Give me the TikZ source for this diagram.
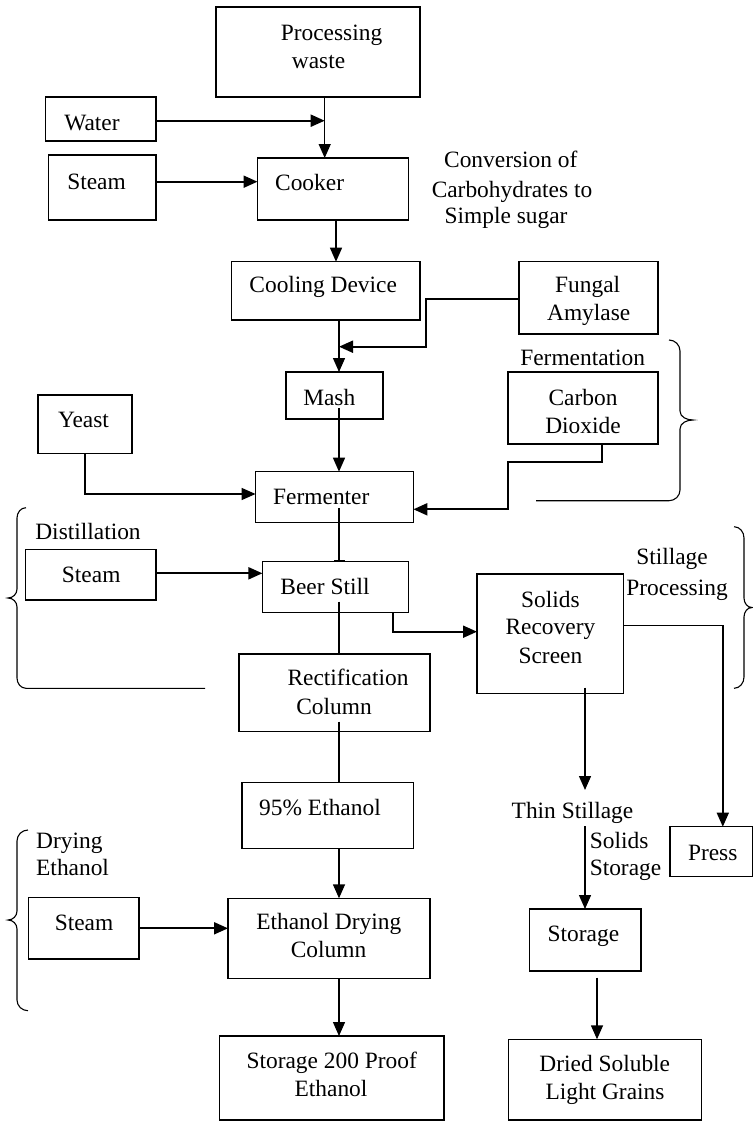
\documentclass[tikz,border=0pt]{standalone}
\usepackage{fontspec}
\setmainfont{Liberation Serif}
\usetikzlibrary{arrows.meta}
\begin{document}
\begin{tikzpicture}[x=1pt,y=-1pt,
  box/.style={draw,line width=1.2pt,inner sep=0pt,outer sep=0pt},
  txt/.style={inner sep=0pt,font=\fontsize{23.4}{28}\selectfont},
  con/.style={line width=1.4pt},
  arr/.style={con,-{Triangle[length=14pt,width=12pt]}},
  thk/.style={line width=2pt},
  brace/.style={line width=1.1pt}]
\useasboundingbox (0,0) rectangle (752,1121);
\newcommand\bx[5]{\pgfmathsetmacro\bw{#4-#2}\pgfmathsetmacro\bh{#5-#3}%
  \node[box,minimum width=\bw pt,minimum height=\bh pt] (#1) at ({(#2+#4)/2},{(#3+#5)/2}) {};}
\newcommand\tx[4]{\node[txt,anchor=base] (#1) at (#2,{#3+7.5}) {#4};}
% boxes
\bx{proc}{216}{7}{420}{97}
\bx{water}{45.5}{97}{156}{141}
\bx{steamA}{48.5}{155}{156}{220}
\bx{cook}{257.5}{158}{408.6}{220}
\bx{cool}{231.6}{261.7}{420}{320}
\bx{fung}{519}{261.7}{658}{334}
\bx{mash}{286}{372}{383}{419}
\bx{co2}{508}{372}{658}{444}
\bx{yeast}{38}{395}{132}{453.7}
\bx{ferm}{255.6}{471.7}{413.4}{522.7}
\bx{steamB}{25.4}{549.3}{156}{600}
\bx{beer}{262.4}{561.7}{408.6}{612.3}
\bx{solids}{477}{574}{623.5}{693.3}
\bx{rect}{239}{654}{430}{731.7}
\bx{eth}{242}{782.7}{413.4}{848.3}
\bx{press}{670}{826.7}{753}{876.7}
\bx{steamC}{28.3}{897.7}{139}{959}
\bx{dry}{228}{898.3}{430}{978.3}
\bx{stor}{529.5}{909}{641}{971}
\bx{sproof}{219.7}{1036}{444}{1120}
\bx{dried}{508.4}{1039.3}{701.7}{1120}
% texts
\tx{t1}{331.5}{33.3}{Processing}
\tx{t2}{318.5}{61}{waste}
\tx{t3}{92}{122.7}{Water}
\tx{t4}{96.5}{181.7}{Steam}
\tx{t5}{309.6}{183.3}{Cooker}
\tx{t6}{510.8}{160}{Conversion of}
\tx{t7}{512}{190}{Carbohydrates to}
\tx{t8}{506}{216}{Simple sugar}
\tx{t9}{323.2}{285}{Cooling Device}
\tx{t10}{587.7}{285}{Fungal}
\tx{t11}{588.7}{313}{Amylase}
\tx{t12}{329.3}{397.7}{Mash}
\tx{t13}{582.7}{358}{Fermentation}
\tx{t14}{583}{397.7}{Carbon}
\tx{t15}{583}{425.7}{Dioxide}
\tx{t16}{83.5}{420}{Yeast}
\tx{t17}{321.3}{496.7}{Fermenter}
\tx{t18}{88}{531.7}{Distillation}
\tx{t19}{672}{557}{Stillage}
\tx{t20}{91.2}{575}{Steam}
\tx{t21}{325}{586.7}{Beer Still}
\tx{t22}{677}{588}{Processing}
\tx{t23}{550.4}{600}{Solids}
\tx{t24}{550.4}{627}{Recovery}
\tx{t25}{550.4}{655.7}{Screen}
\tx{t26}{348}{678.3}{Rectification}
\tx{t27}{334}{706.7}{Column}
\tx{t28}{320}{807.7}{95\% Ethanol}
\tx{t29}{572.5}{811}{Thin Stillage}
\tx{t30}{619.2}{841}{Solids}
\tx{t31}{625.5}{868}{Storage}
\node[txt,anchor=base west] (t32) at (36,848.5) {Drying};
\node[txt,anchor=base west] (t33) at (36,875.8) {Ethanol};
\tx{t34}{712.7}{853.3}{Press}
\tx{t35}{84}{922.7}{Steam}
\tx{t36}{328.8}{922}{Ethanol Drying}
\tx{t37}{328.5}{950}{Column}
\tx{t38}{583.4}{934}{Storage}
\tx{t39}{331.7}{1060.5}{Storage 200 Proof}
\tx{t40}{331}{1089.3}{Ethanol}
\tx{t41}{604.8}{1064}{Dried Soluble}
\tx{t42}{605}{1091.5}{Light Grains}
% free-end coordinates
\coordinate (thinA) at (585,790);
\coordinate (thinB) at (585,826);
% connectors
\draw[arr] (proc.south -| 324.7,0) -- (cook.north -| 324.7,0);
\draw[arr,thk] (water.east |- 0,120.7) -- (324.7,120.7);
\draw[arr,thk] (steamA.east |- 0,181.7) -- (cook.west |- 0,181.7);
\draw[arr] (cook.south -| 336,0) -- (cool.north -| 336,0);
\draw[arr,thk] (fung.west |- 0,299.3) -- (426,299.3) -- (426,346.7) -- (339,346.7);
\draw[arr] (cool.south -| 339,0) -- (mash.north -| 339,0);
\draw[arr] (339,408) -- (ferm.north -| 339,0);
\draw[arr] (yeast.south -| 85,0) -- (85,494) -- (ferm.west |- 0,494);
\draw[arr,thk] (co2.south -| 602,0) -- (602,461.7) -- (507.5,461.7) -- (507.5,509.3) -- (ferm.east |- 0,509.3);
\draw[con,-{Bar[width=11pt,line width=1.4pt]}] (339,508) -- (beer.north -| 339,0);
\draw[arr,thk] (steamB.east |- 0,573.3) -- (beer.west |- 0,573.3);
\draw[arr,thk] (beer.south -| 393,0) -- (393,631.7) -- (solids.west |- 0,631.7);
\draw[con] (339,601.7) -- (rect.north -| 339,0);
\draw[con] (339,721.7) -- (eth.north -| 339,0);
\draw[arr] (585,687.7) -- (thinA);
\draw[arr] (solids.east |- 0,625.7) -- (722.8,625.7) -- (press.north -| 722.8,0);
\draw[arr] (thinB) -- (stor.north -| 585,0);
\draw[arr] (eth.south -| 339,0) -- (dry.north -| 339,0);
\draw[arr,thk] (steamC.east |- 0,928.3) -- (dry.west |- 0,928.3);
\draw[arr] (dry.south -| 339,0) -- (sproof.north -| 339,0);
\draw[arr] (597,977.7) -- (dried.north -| 597,0);
% braces
\draw[brace] (26,507.7) to[out=180,in=90] (17,518) -- (17,589) to[out=-90,in=0] (8,598)
  to[out=0,in=90] (17,607) -- (17,678) to[out=-90,in=180] (26,688.3) -- (205,688.3);
\draw[brace] (28,830) to[out=180,in=90] (17,841) -- (17,911) to[out=-90,in=0] (8,920)
  to[out=0,in=90] (17,929) -- (17,1000) to[out=-90,in=180] (28,1010.7);
\draw[brace] (669,340) to[out=0,in=90] (680,351) -- (680,411) to[out=-90,in=180] (693,420)
  to[out=180,in=90] (680,429) -- (680,490) to[out=-90,in=0] (669,500.7) -- (536,500.7);
\draw[brace] (734,526.7) to[out=0,in=90] (744,538) -- (744,598) to[out=-90,in=180] (752,607.5)
  to[out=180,in=90] (744,617) -- (744,677) to[out=-90,in=0] (734,688.3);
\end{tikzpicture}
\end{document}
